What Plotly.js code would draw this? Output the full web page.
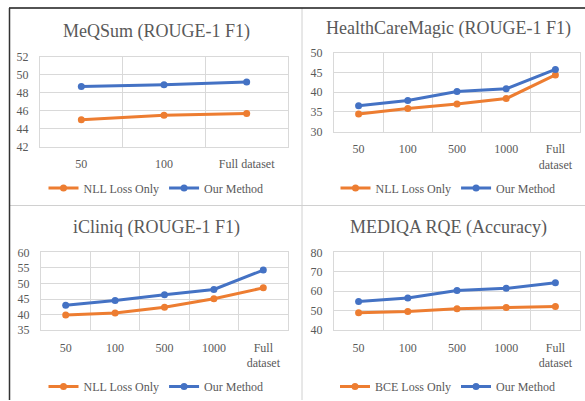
<!DOCTYPE html>
<html>
<head>
<meta charset="utf-8">
<script src="https://cdn.plot.ly/plotly-3.0.1.min.js"></script>
<style>html,body{margin:0;padding:0;background:#fff;}#chart{width:585px;height:401px;}</style>
</head>
<body>
<div id="chart"></div>
<script>
// ---- data ----
const catsShort = ['50', '100', 'Full dataset'];
const catsLong = ['50', '100', '500', '1000', 'Full dataset'];
const ticksShort = ['50', '100', 'Full dataset'];
const ticksLong = ['50', '100', '500', '1000', 'Full<br>dataset'];

const titles = ['MeQSum (ROUGE-1 F1)', 'HealthCareMagic (ROUGE-1 F1)', 'iCliniq (ROUGE-1 F1)', 'MEDIQA RQE (Accuracy)'];
const baselineNames = ['NLL Loss Only', 'NLL Loss Only', 'NLL Loss Only', 'BCE Loss Only'];
const oursName = 'Our Method';

const meqsumNLL = [45.0, 45.5, 45.7];
const meqsumOurs = [48.7, 48.9, 49.2];
const hcmNLL = [34.5, 35.9, 37.0, 38.4, 44.4];
const hcmOurs = [36.6, 37.9, 40.2, 40.9, 45.8];
const icliniqNLL = [39.9, 40.5, 42.4, 45.1, 48.6];
const icliniqOurs = [43.0, 44.5, 46.4, 48.1, 54.3];
const mediqaBCE = [48.9, 49.6, 51.0, 51.7, 52.2];
const mediqaOurs = [54.8, 56.5, 60.4, 61.5, 64.4];

const yRanges = [[42, 52], [30, 50], [35, 60], [40, 80]];
const yDticks = [2, 5, 5, 10];

// ---- layout helpers ----
const W = 585, H = 401;
const px = v => v / W;
const py = v => 1 - v / H;
const ORANGE = '#ED7D31', BLUE = '#4472C4', TXT = '#595959', GRID = '#D9D9D9';
const FONT = 'Liberation Serif, Times New Roman, serif';

const panels = [
  {cats: catsShort, ticks: ticksShort, base: meqsumNLL, ours: meqsumOurs, plotX: [40, 288], plotY: [57, 147], titleXY: [156, 32], legY: 188, cx: 156},
  {cats: catsLong, ticks: ticksLong, base: hcmNLL, ours: hcmOurs, plotX: [334, 580], plotY: [53, 132], titleXY: [448, 29], legY: 188, cx: 448},
  {cats: catsLong, ticks: ticksLong, base: icliniqNLL, ours: icliniqOurs, plotX: [41, 288], plotY: [253, 331], titleXY: [156, 228], legY: 387, cx: 156},
  {cats: catsLong, ticks: ticksLong, base: mediqaBCE, ours: mediqaOurs, plotX: [334, 580], plotY: [253, 331], titleXY: [448, 228], legY: 387, cx: 448}
];

const data = [];
const layout = {
  width: W, height: H,
  margin: {l: 0, r: 0, t: 0, b: 0},
  paper_bgcolor: '#fff', plot_bgcolor: '#fff',
  font: {family: FONT, color: TXT, size: 12},
  hovermode: false,
  annotations: [],
  shapes: []
};

panels.forEach((p, i) => {
  const n = i + 1;
  const xa = n === 1 ? 'x' : 'x' + n;
  const ya = n === 1 ? 'y' : 'y' + n;
  const legKey = n === 1 ? 'legend' : 'legend' + n;
  data.push({
    x: p.cats, y: p.base, xaxis: xa, yaxis: ya, type: 'scatter', mode: 'lines+markers',
    name: baselineNames[i], legend: legKey,
    line: {color: ORANGE, width: 3}, marker: {color: ORANGE, size: 7}
  });
  data.push({
    x: p.cats, y: p.ours, xaxis: xa, yaxis: ya, type: 'scatter', mode: 'lines+markers',
    name: oursName, legend: legKey,
    line: {color: BLUE, width: 3}, marker: {color: BLUE, size: 7}
  });
  layout['xaxis' + (n === 1 ? '' : n)] = {
    domain: [px(p.plotX[0]), px(p.plotX[1])], anchor: ya,
    type: 'category', categoryorder: 'array', categoryarray: p.cats,
    tickmode: 'array', tickvals: p.cats, ticktext: p.ticks,
    range: [-0.5, p.cats.length - 0.5],
    tickson: 'boundaries', ticks: '', showgrid: true, gridcolor: GRID, gridwidth: 1,
    showline: true, linecolor: GRID, linewidth: 1, mirror: true,
    tickfont: {family: FONT, size: 12, color: TXT}, ticklabelstandoff: 6,
    fixedrange: true
  };
  layout['yaxis' + (n === 1 ? '' : n)] = {
    domain: [py(p.plotY[1]), py(p.plotY[0])], anchor: xa,
    range: yRanges[i], dtick: yDticks[i], tick0: 0,
    ticks: '', showgrid: true, gridcolor: GRID, gridwidth: 1, zeroline: false,
    showline: true, linecolor: GRID, linewidth: 1, mirror: true,
    tickfont: {family: FONT, size: 12, color: TXT}, ticklabelstandoff: 8,
    fixedrange: true
  };
  layout[legKey] = {
    x: px(p.cx), y: py(p.legY), xanchor: 'center', yanchor: 'middle',
    orientation: 'h', bgcolor: 'rgba(0,0,0,0)',
    font: {family: FONT, size: 12, color: TXT}, itemclick: false
  };
  layout.annotations.push({
    text: titles[i], xref: 'paper', yref: 'paper',
    x: px(p.titleXY[0]), y: py(p.titleXY[1]), xanchor: 'center', yanchor: 'middle',
    showarrow: false, font: {family: FONT, size: 18, color: TXT}
  });
});

// panel borders (sheet grid)
layout.shapes.push(
  {type: 'line', xref: 'paper', yref: 'paper', x0: px(302), x1: px(302), y0: py(8), y1: py(401), line: {color: '#D0D0D0', width: 1}},
  {type: 'line', xref: 'paper', yref: 'paper', x0: px(10), x1: px(585), y0: py(206), y1: py(206), line: {color: '#D0D0D0', width: 1}},
  {type: 'line', xref: 'paper', yref: 'paper', x0: px(9), x1: px(585), y0: py(8), y1: py(8), line: {color: '#1a1a1a', width: 1.5}},
  {type: 'line', xref: 'paper', yref: 'paper', x0: px(9.5), x1: px(9.5), y0: py(8), y1: py(401), line: {color: '#333333', width: 1.5}}
);

Plotly.newPlot('chart', data, layout, {staticPlot: true, displayModeBar: false});
</script>
</body>
</html>
